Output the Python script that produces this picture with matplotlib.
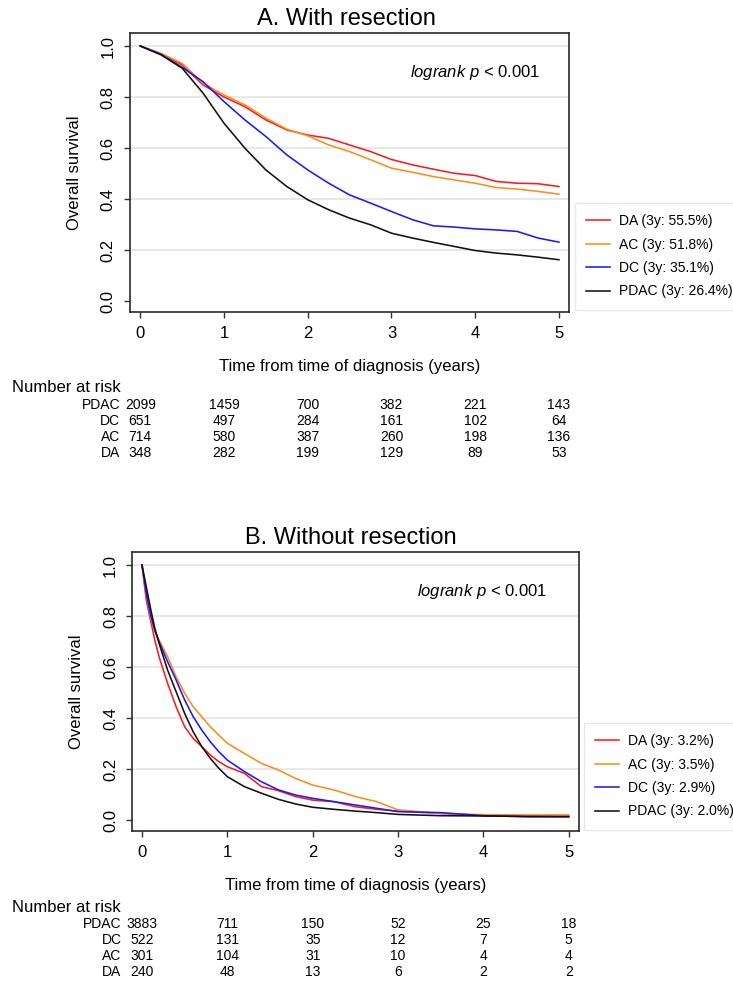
import matplotlib
matplotlib.use("Agg")
import matplotlib.pyplot as plt
from matplotlib.transforms import blended_transform_factory

plt.rcParams['font.family'] = ['Liberation Sans', 'DejaVu Sans']
plt.rcParams['mathtext.fontset'] = 'custom'
plt.rcParams['mathtext.rm'] = 'Liberation Sans'
plt.rcParams['mathtext.it'] = 'Liberation Sans:italic'

# -----------------------------
# Survival estimates
# -----------------------------
groups = ["DA", "AC", "DC", "PDAC"]
colors = ["#ff1a1a", "#ff8c1a", "#1a1aff", "#111111"]

# A. with resection
times_a = [0, 0.25, 0.5, 0.75, 1.0, 1.25, 1.5, 1.75, 2.0, 2.25, 2.5,
           2.75, 3.0, 3.25, 3.5, 3.75, 4.0, 4.25, 4.5, 4.75, 5.0]
da_a = [1.0, 0.969, 0.926, 0.847, 0.800, 0.762, 0.710, 0.671, 0.651, 0.638, 0.612,
        0.586, 0.555, 0.534, 0.517, 0.501, 0.492, 0.469, 0.462, 0.460, 0.449]
ac_a = [1.0, 0.971, 0.932, 0.854, 0.808, 0.769, 0.717, 0.674, 0.648, 0.612, 0.586,
        0.554, 0.521, 0.505, 0.488, 0.475, 0.462, 0.445, 0.439, 0.430, 0.419]
dc_a = [1.0, 0.967, 0.916, 0.860, 0.782, 0.710, 0.645, 0.573, 0.514, 0.462, 0.416,
        0.384, 0.351, 0.319, 0.295, 0.290, 0.283, 0.279, 0.273, 0.247, 0.231]
pdac_a = [1.0, 0.965, 0.913, 0.815, 0.697, 0.599, 0.514, 0.449, 0.397, 0.358, 0.325,
          0.299, 0.266, 0.247, 0.230, 0.214, 0.198, 0.188, 0.181, 0.172, 0.162]
legend_a = ["DA (3y: 55.5%)", "AC (3y: 51.8%)", "DC (3y: 35.1%)", "PDAC (3y: 26.4%)"]
risk_a = {
    "PDAC": [2099, 1459, 700, 382, 221, 143],
    "DC": [651, 497, 284, 161, 102, 64],
    "AC": [714, 580, 387, 260, 198, 136],
    "DA": [348, 282, 199, 129, 89, 53],
}

# B. without resection
times_b = [0, 0.05, 0.1, 0.15, 0.2, 0.3, 0.4, 0.5, 0.6, 0.7, 0.8, 0.9, 1.0,
           1.2, 1.4, 1.6, 1.8, 2.0, 2.25, 2.5, 2.75, 3.0, 3.5, 4.0, 4.5, 5.0]
da_b = [1.0, 0.863, 0.784, 0.706, 0.640, 0.536, 0.444, 0.366, 0.320, 0.288, 0.255, 0.229, 0.209,
        0.183, 0.131, 0.115, 0.092, 0.078, 0.072, 0.052, 0.042, 0.035, 0.026, 0.017, 0.016, 0.016]
ac_b = [1.0, 0.882, 0.797, 0.739, 0.706, 0.641, 0.562, 0.497, 0.444, 0.405, 0.366, 0.333, 0.301,
        0.261, 0.222, 0.196, 0.163, 0.137, 0.118, 0.092, 0.072, 0.040, 0.026, 0.021, 0.020, 0.020]
dc_b = [1.0, 0.889, 0.804, 0.745, 0.699, 0.621, 0.549, 0.471, 0.405, 0.353, 0.307, 0.268, 0.235,
        0.190, 0.150, 0.118, 0.098, 0.085, 0.072, 0.059, 0.046, 0.033, 0.029, 0.017, 0.013, 0.013]
pdac_b = [1.0, 0.915, 0.830, 0.752, 0.693, 0.588, 0.503, 0.418, 0.346, 0.288, 0.242, 0.203, 0.170,
          0.131, 0.105, 0.081, 0.063, 0.050, 0.042, 0.035, 0.029, 0.022, 0.017, 0.016, 0.014, 0.013]
legend_b = ["DA (3y: 3.2%)", "AC (3y: 3.5%)", "DC (3y: 2.9%)", "PDAC (3y: 2.0%)"]
risk_b = {
    "PDAC": [3883, 711, 150, 52, 25, 18],
    "DC": [522, 131, 35, 12, 7, 5],
    "AC": [301, 104, 31, 10, 4, 4],
    "DA": [240, 48, 13, 6, 2, 2],
}

W, H = 733, 981
fig = plt.figure(figsize=(W / 100, H / 100), dpi=100)


def fx(px):
    return px / W


def fy(py):
    return 1 - py / H


def draw_panel(box, title, title_xy, times, curves, labels, risk,
               legend_box, label_ys, nar_y, xmin):
    left, top, right, bottom = box
    ax = fig.add_axes([fx(left), fy(bottom), fx(right - left), (bottom - top) / H])

    for v in [0.2, 0.4, 0.6, 0.8, 1.0]:
        ax.axhline(v, color="#e6e6e6", lw=1.3, zorder=0)

    handles = []
    for vals, col, lab in zip(curves, colors, labels):
        ln, = ax.plot(times, vals, color=col, lw=1.15, label=lab)
        handles.append(ln)

    ax.set_xlim(xmin, 5.12)
    ax.set_ylim(-0.043, 1.051)
    ax.set_xticks(range(6))
    ax.set_yticks([0, 0.2, 0.4, 0.6, 0.8, 1.0])
    ax.set_yticklabels([f"{v:.1f}" for v in ax.get_yticks()], rotation=90, va="center")
    ax.tick_params(axis="both", labelsize=12, length=4, width=1, color="#333333", pad=6)
    for sp in ax.spines.values():
        sp.set_color("#2a2a2a")
        sp.set_linewidth(1.2)

    ax.set_ylabel("Overall survival", fontsize=12)
    ax.yaxis.set_label_coords(-0.108, 0.5)
    ax.set_xlabel("Time from time of diagnosis (years)", fontsize=12)
    ax.xaxis.set_label_coords(0.5, -0.168)

    ax.text(0.638, 0.86, r"$\mathit{logrank\ p}$ < 0.001", transform=ax.transAxes,
            fontsize=12, ha="left", va="center")

    fig.text(fx(title_xy[0]), fy(title_xy[1]), title, fontsize=17, ha="center", va="center")

    # legend outside the plot region on the right
    lx, ly0, ly1 = legend_box
    ax.legend(handles=handles, loc="upper left",
              bbox_to_anchor=(fx(lx), fy(ly1), fx(W + 40 - lx), (ly1 - ly0) / H),
              bbox_transform=fig.transFigure, mode="expand", borderaxespad=0,
              fontsize=10, frameon=True, fancybox=False, edgecolor="#e3e3e3",
              handlelength=1.75, handletextpad=0.6, borderpad=0.8, labelspacing=0.68)

    # number at risk table
    fig.text(fx(12), fy(nar_y), "Number at risk", fontsize=12, ha="left", va="center")
    trans = blended_transform_factory(ax.transData, fig.transFigure)
    for (name, counts), yy in zip(risk.items(), label_ys):
        ax.text(-0.24, fy(yy), name, transform=trans, fontsize=10, ha="right", va="center")
        for t, n in enumerate(counts):
            ax.text(t, fy(yy), str(n), transform=trans, fontsize=10, ha="center", va="center")
    return ax


draw_panel((129.5, 33, 569, 312), "A. With resection", (346, 19),
           times_a, [da_a, ac_a, dc_a, pdac_a], legend_a, risk_a,
           (575, 203, 307), [405, 421, 437, 453], 388, -0.129)

draw_panel((132, 552, 579, 831), "B. Without resection", (351, 538),
           times_b, [da_b, ac_b, dc_b, pdac_b], legend_b, risk_b,
           (584, 723, 825), [924, 940, 956, 972], 907, -0.117)

fig.savefig("out.png", dpi=100)
